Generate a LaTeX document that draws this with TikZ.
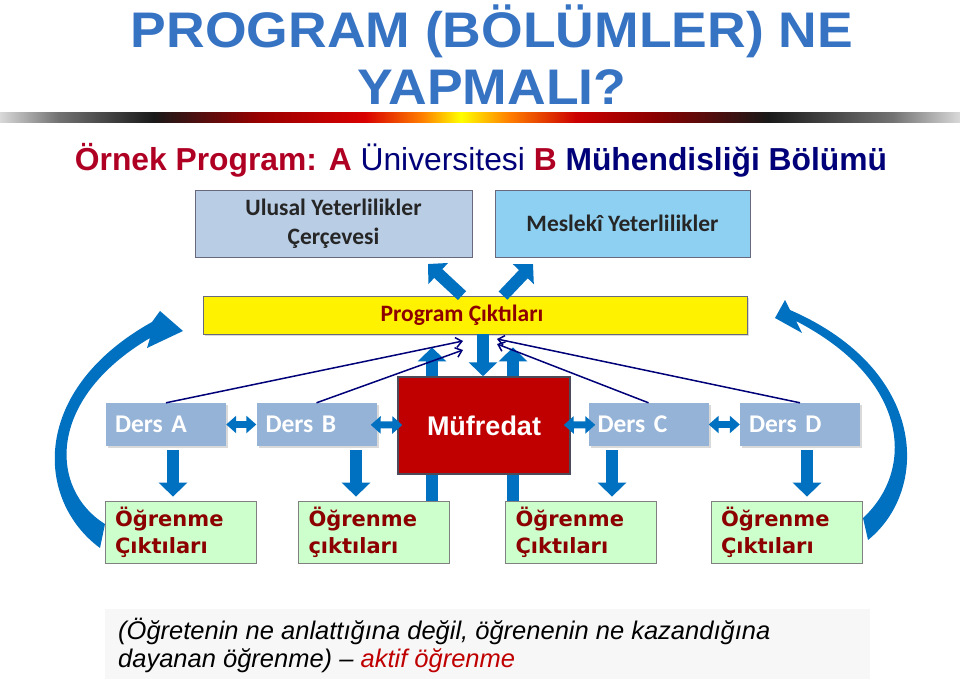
\documentclass[tikz,border=0pt]{standalone}
\usepackage{fontspec}
\setmainfont{Liberation Sans}
\newfontfamily\calfont{Carlito}
\newfontfamily\verfont{DejaVu Sans}
\usetikzlibrary{arrows.meta,shadows,backgrounds}

\definecolor{titleblue}{RGB}{55,115,195}
\definecolor{subred}{RGB}{175,0,35}
\definecolor{navy}{RGB}{0,0,120}
\definecolor{arrowblue}{RGB}{0,112,192}
\definecolor{dersblue}{RGB}{149,179,215}
\definecolor{ulblue}{RGB}{185,205,229}
\definecolor{meblue}{RGB}{142,208,242}
\definecolor{boxedge}{RGB}{105,105,125}
\definecolor{mured}{RGB}{192,0,0}
\definecolor{outgreen}{RGB}{204,255,204}
\definecolor{outred}{RGB}{140,0,0}
\definecolor{notegray}{RGB}{247,247,247}

% tikz fits the path into the middle half of the shading (25bp..75bp)
\pgfdeclarehorizontalshading{barshade}{100bp}{color(0bp)=(black!15); color(25bp)=(black!15);
  color(28bp)=(black!55); color(33bp)=(black!90); color(38.5bp)=(red!60!black);
  color(44bp)=(red!85!black); color(47bp)=(orange); color(49bp)=(yellow); color(51.5bp)=(orange);
  color(55bp)=(red!80!black); color(59bp)=(red!55!black); color(65bp)=(black!90);
  color(71.5bp)=(black!55); color(75bp)=(black!15); color(100bp)=(black!15)}

\tikzset{
  titletext/.style={font=\fontsize{50}{56}\selectfont\bfseries, text=titleblue, inner sep=0pt},
  topbox/.style={draw=boxedge, line width=1pt, minimum height=67pt, inner sep=0pt,
    font=\calfont\bfseries\fontsize{23.5}{29}\selectfont, text=black!85, align=center},
  dersbox/.style={fill=dersblue, text=white, minimum height=43pt, text width=102pt,
    inner xsep=9pt, inner ysep=0pt, align=left, font=\calfont\bfseries\fontsize{25.5}{28}\selectfont,
    drop shadow={opacity=.3, shadow xshift=2pt, shadow yshift=-2pt}},
  outbox/.style={draw=gray, line width=.8pt, fill=outgreen, text=outred, minimum height=62pt,
    text width=131pt, inner xsep=10pt, inner ysep=0pt, align=left,
    font=\verfont\bfseries\fontsize{21}{27}\selectfont},
  fat/.style={draw=arrowblue, line width=12pt, -{Triangle[width=28pt,length=14pt]}},
  dbl/.style={draw=arrowblue, line width=7pt,
    {Triangle[width=17pt,length=10pt]}-{Triangle[width=17pt,length=10pt]}},
  feed/.style={draw=navy, line width=1.5pt, -{Straight Barb[length=6pt,width=10pt]}},
}

\begin{document}
\begin{tikzpicture}[x=1pt, y=-1pt]
\useasboundingbox (0,0) rectangle (960,679);

% title
\node[titletext] (t1) at (492,31) {\scalebox{1.07}[1]{PROGRAM (BÖLÜMLER) NE}};
\node[titletext] (t2) at (492,87) {\scalebox{1.07}[1]{YAPMALI?}};
\shade[shading=barshade] (0,113) rectangle (960,123);

\node (sub) at (481,160) {\fontsize{31.8}{36}\selectfont
  {\color{subred}\bfseries Örnek Program: A} {\color{navy}Üniversitesi}
  {\color{subred}\bfseries B} {\color{navy}\bfseries Mühendisliği Bölümü}};

% upper boxes
\node[topbox, fill=ulblue, minimum width=277pt] (ul) at (333.5,223.5) {Ulusal Yeterlilikler\\Çerçevesi};
\node[topbox, fill=meblue, minimum width=255pt] (me) at (622.5,223.5) {Meslekî Yeterlilikler};

\node[fill=yellow, draw=boxedge, line width=.8pt, minimum width=544pt, minimum height=38pt,
  inner sep=0pt, text=outred, font=\calfont\bfseries\fontsize{23.5}{28}\selectfont,
  drop shadow={opacity=.3, shadow xshift=2pt, shadow yshift=-2pt}] (pc) at (475,315)
  {\hspace*{-26pt}Program Çıktıları};

% courses
\node[dersbox] (dA) at (166,424.5) {Ders A};
\node[dersbox] (dB) at (316.5,424.5) {Ders B};
\node[dersbox] (dC) at (648.5,424.5) {Ders C};
\node[dersbox] (dD) at (800,424.5) {Ders D};

\node[fill=mured, draw=boxedge!70!black, line width=1.5pt, minimum width=172pt, minimum height=97pt,
  inner sep=0pt, text=white, font=\fontsize{27}{30}\selectfont\bfseries] (mu) at (484,425.5) {Müfredat};

% learning outcomes
\node[outbox] (oA) at (180.5,532) {Öğrenme\\Çıktıları};
\node[outbox] (oB) at (374,532) {Öğrenme\\çıktıları};
\node[outbox] (oC) at (581,532) {Öğrenme\\Çıktıları};
\node[outbox] (oD) at (786.5,532) {Öğrenme\\Çıktıları};

% arrows behind the curriculum box
\begin{scope}[on background layer]
\draw[fat, shorten >=13pt] (oB.north -| 432,0) -- (pc.south -| 432,0);
\draw[fat, shorten >=13pt] (oC.north -| 513,0) -- (pc.south -| 513,0);
\end{scope}
\draw[fat] (pc.south -| 483,0) -- (mu.north -| 483,0);

\coordinate (ulIn) at (428,264);
\coordinate (meIn) at (533,264);
\draw[fat] (pc.north -| 462,0) -- (ulIn);
\draw[fat] (pc.north -| 503,0) -- (meIn);

\draw[dbl] (dA) -- (dB);
\draw[dbl, shorten <=-6pt, shorten >=-5pt] (dB) -- (mu);
\draw[dbl, shorten <=-7pt, shorten >=-7pt] (mu) -- (dC);
\draw[dbl] (dC) -- (dD);

\draw[fat, shorten <=4pt, shorten >=4pt] (dA.south -| 173,0) -- (oA.north -| 173,0);
\draw[fat, shorten <=4pt, shorten >=4pt] (dB.south -| 356,0) -- (oB.north -| 356,0);
\draw[fat, shorten <=4pt, shorten >=4pt] (dC.south -| 612,0) -- (oC.north -| 612,0);
\draw[fat, shorten <=4pt, shorten >=4pt] (dD.south -| 807,0) -- (oD.north -| 807,0);

% feedback lines
\coordinate (pA) at (463,341);
\coordinate (pB) at (463,350);
\coordinate (pC) at (497,344);
\coordinate (pD) at (497,339);
\draw[feed] (dA.north) -- (pA);
\draw[feed] (dB.north) -- (pB);
\draw[feed] (dC.north) -- (pC);
\draw[feed] (dD.north) -- (pD);

% curved loops
\fill[arrowblue] (105,524) .. controls (50,490) and (45,400) .. (150,338)
  -- (147,348) -- (183,331) -- (160,311) -- (152,322)
  .. controls (30,390) and (35,500) .. (100,548) -- cycle;
\fill[arrowblue] (863,518) .. controls (915,470) and (910,380) .. (796,321)
  -- (802,333) -- (775,318) -- (785,300) -- (790,310)
  .. controls (928,370) and (930,490) .. (868,540) -- cycle;

% note
\fill[notegray] (105,609) rectangle (870,679);
\node[anchor=west, align=left, inner sep=0pt, font=\itshape\fontsize{25.5}{28}\selectfont] (note) at (118,645)
  {(Öğretenin ne anlattığına değil, öğrenenin ne kazandığına\\dayanan öğrenme) -- {\color{mured}aktif öğrenme}};

\end{tikzpicture}
\end{document}
